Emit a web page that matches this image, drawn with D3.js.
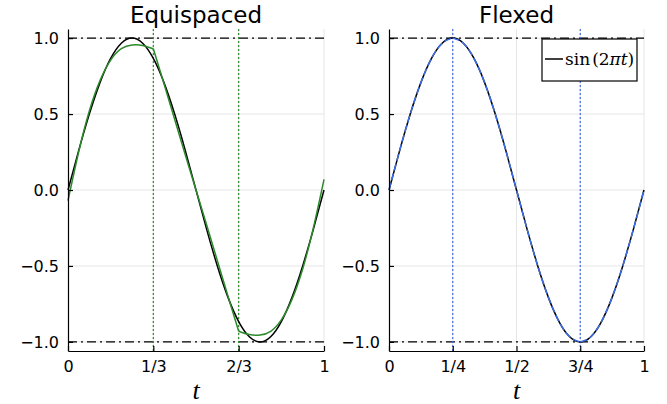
<!DOCTYPE html>
<html>
<head>
<meta charset="utf-8">
<script src="https://cdn.jsdelivr.net/npm/d3@7"></script>
<style>
  body { margin: 0; background: #fff; }
  svg { display: block; font-family: "DejaVu Sans", sans-serif; }
</style>
</head>
<body>
<div id="chart"></div>
<script>
// sample grid (step 1/24) and sin(2πt)
const tGrid = d3.range(25).map(i => i / 24);
const sinValues = [0, 0.259, 0.5, 0.707, 0.866, 0.966, 1, 0.966, 0.866, 0.707, 0.5, 0.259, 0,
  -0.259, -0.5, -0.707, -0.866, -0.966, -1, -0.966, -0.866, -0.707, -0.5, -0.259, 0];

// equispaced fit, three pieces
const eqBreaks = [1 / 3, 2 / 3];
const eqSeg1 = [-0.07, 0.25, 0.52, 0.72, 0.855, 0.93, 0.955, 0.952, 0.93];
const eqSeg2 = [0.93, 0.70, 0.465, 0.23, 0, -0.23, -0.465, -0.70, -0.93];
const eqSeg3 = [-0.93, -0.952, -0.955, -0.93, -0.855, -0.72, -0.52, -0.25, 0.07];

// flexed fit, three pieces
const flexBreaks = [1 / 4, 3 / 4];
const flexSeg1 = [0, 0.259, 0.5, 0.707, 0.866, 0.966, 1];
const flexSeg2 = [1, 0.966, 0.866, 0.707, 0.5, 0.259, 0, -0.259, -0.5, -0.707, -0.866, -0.966, -1];
const flexSeg3 = [-1, -0.966, -0.866, -0.707, -0.5, -0.259, 0];

const yTicks = [-1, -0.5, 0, 0.5, 1];
const eqTicks = [0, 1 / 3, 2 / 3, 1];
const eqTickLabels = ['0', '1/3', '2/3', '1'];
const flexTicks = [0, 1 / 4, 1 / 2, 3 / 4, 1];
const flexTickLabels = ['0', '1/4', '1/2', '3/4', '1'];

const width = 667, height = 404;
const plotTop = 29, plotBottom = 351;

const svg = d3.select('#chart').append('svg')
  .attr('width', width)
  .attr('height', height);

const y = d3.scaleLinear().domain([-1.06, 1.06]).range([plotBottom, plotTop]);

const panels = [
  {
    title: 'Equispaced', left: 68, right: 324, color: '#2b8a2b',
    breaks: eqBreaks, ticks: eqTicks, labels: eqTickLabels,
    segs: [[0, eqSeg1], [8, eqSeg2], [16, eqSeg3]], dash: null
  },
  {
    title: 'Flexed', left: 389, right: 644, color: '#3d6ee8',
    breaks: flexBreaks, ticks: flexTicks, labels: flexTickLabels,
    segs: [[0, flexSeg1], [6, flexSeg2], [18, flexSeg3]], dash: '7,3', legend: true
  }
];

panels.forEach(p => {
  const x = d3.scaleLinear().domain([0, 1]).range([p.left, p.right]);
  const g = svg.append('g');

  // grid
  g.selectAll('.vgrid').data(p.ticks.slice(1)).join('line')
    .attr('x1', d => x(d)).attr('x2', d => x(d))
    .attr('y1', plotTop).attr('y2', plotBottom)
    .attr('stroke', '#e6e6e6').attr('stroke-width', 1);
  g.selectAll('.hgrid').data(yTicks).join('line')
    .attr('x1', p.left).attr('x2', p.right)
    .attr('y1', d => y(d)).attr('y2', d => y(d))
    .attr('stroke', '#e6e6e6').attr('stroke-width', 1);

  // hlines at ±1
  g.selectAll('.hl').data([-1, 1]).join('line')
    .attr('x1', p.left).attr('x2', p.right)
    .attr('y1', d => y(d)).attr('y2', d => y(d))
    .attr('stroke', '#000').attr('stroke-width', 1.3)
    .attr('stroke-dasharray', '9,4,2,4');

  // breakpoints
  g.selectAll('.vl').data(p.breaks).join('line')
    .attr('x1', d => x(d)).attr('x2', d => x(d))
    .attr('y1', plotTop).attr('y2', plotBottom)
    .attr('stroke', p.color).attr('stroke-width', 1.2)
    .attr('stroke-dasharray', '2,2');

  const line = d3.line()
    .x(d => x(d[0])).y(d => y(d[1]))
    .curve(d3.curveNatural);

  g.append('path')
    .datum(tGrid.map((t, i) => [t, sinValues[i]]))
    .attr('d', line)
    .attr('fill', 'none').attr('stroke', '#000').attr('stroke-width', 1.5);

  p.segs.forEach(([start, vals]) => {
    g.append('path')
      .datum(vals.map((v, i) => [tGrid[start + i], v]))
      .attr('d', line)
      .attr('fill', 'none').attr('stroke', p.color).attr('stroke-width', 1.5)
      .attr('stroke-dasharray', p.dash);
  });

  // axes
  const xAxis = g.append('g').attr('transform', `translate(0,${plotBottom})`)
    .call(d3.axisBottom(x).tickValues(p.ticks).tickFormat((d, i) => p.labels[i])
      .tickSizeInner(-5).tickSizeOuter(0).tickPadding(10));
  const yAxis = g.append('g').attr('transform', `translate(${p.left},0)`)
    .call(d3.axisLeft(y).tickValues(yTicks).tickFormat(d3.format('.1f'))
      .tickSizeInner(-5).tickSizeOuter(0).tickPadding(9));
  [xAxis, yAxis].forEach(a => {
    a.select('.domain').attr('stroke', '#000').attr('stroke-width', 1.2);
    a.selectAll('.tick line').attr('stroke', '#000').attr('stroke-width', 1.2);
    a.selectAll('text').attr('font-size', 16).attr('fill', '#000')
      .attr('font-family', '"DejaVu Sans", sans-serif');
  });
  xAxis.selectAll('text').attr('dy', '0.71em');

  g.append('text')
    .attr('x', (p.left + p.right) / 2).attr('y', 23)
    .attr('text-anchor', 'middle').attr('font-size', 23)
    .text(p.title);

  g.append('text')
    .attr('x', (p.left + p.right) / 2).attr('y', 399)
    .attr('text-anchor', 'middle').attr('font-size', 26)
    .attr('font-family', '"Liberation Serif", serif').attr('font-style', 'italic')
    .text('t');

  if (p.legend) {
    const lg = g.append('g');
    lg.append('rect').attr('x', 542).attr('y', 39).attr('width', 95).attr('height', 42)
      .attr('fill', '#fff').attr('stroke', '#000').attr('stroke-width', 1.2);
    lg.append('line').attr('x1', 545).attr('x2', 563).attr('y1', 59).attr('y2', 59)
      .attr('stroke', '#000').attr('stroke-width', 1.5);
    const t = lg.append('text').attr('x', 565).attr('y', 65)
      .attr('font-family', '"DejaVu Serif", serif').attr('font-size', 17);
    t.append('tspan').text('sin');
    t.append('tspan').attr('dx', 2).text('(2');
    t.append('tspan').attr('font-style', 'italic').text('π');
    t.append('tspan').attr('font-style', 'italic').text('t');
    t.append('tspan').text(')');
  }
});
</script>
</body>
</html>
